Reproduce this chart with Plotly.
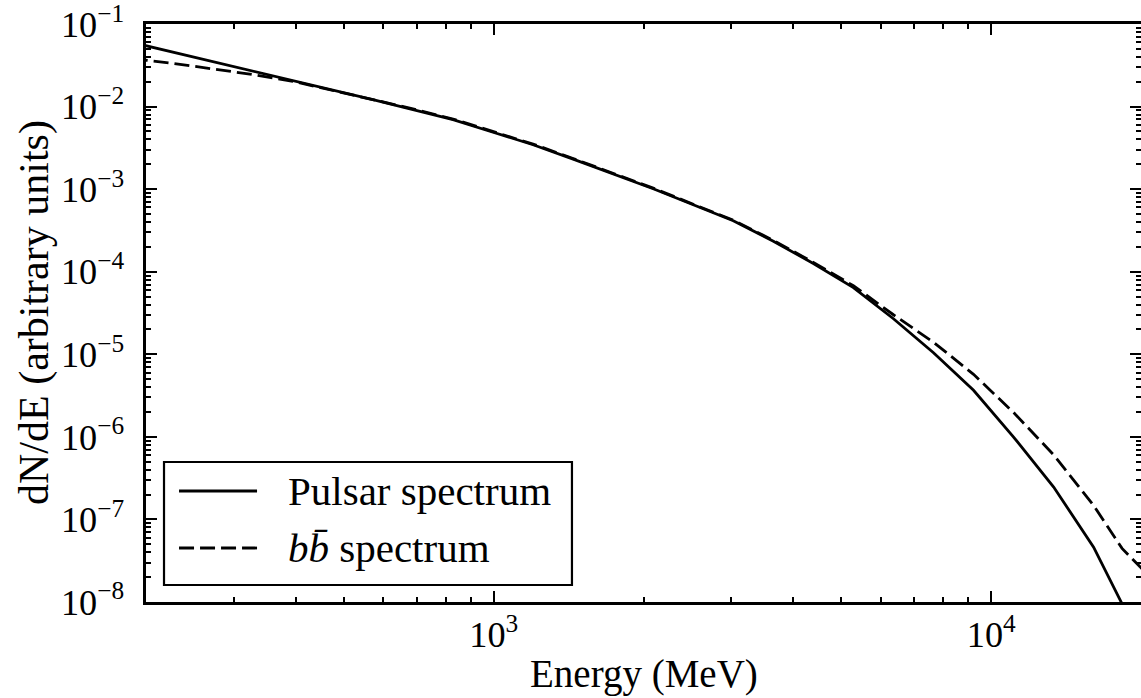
import plotly.graph_objects as go

# ---- data ----
energy_pulsar = [188.1, 226.3, 272.4, 327.9, 394.7, 475.0, 571.6, 688.0, 828.3, 996.8,
                 1199.8, 1444, 1738, 2092, 2518, 3030, 3648, 4390, 5284, 6360,
                 7655, 9213, 11090, 13350, 16060, 19340]
pulsar_dnde = [0.05967, 0.04590, 0.03530, 0.02716, 0.02089, 0.01594, 0.01213, 0.009222,
               0.006939, 0.004894, 0.003453, 0.002316, 0.001541, 0.001011, 6.47e-4,
               4.14e-4, 2.343e-4, 1.257e-4, 6.43e-5, 2.694e-5, 1.042e-5, 3.661e-6,
               9.94e-7, 2.463e-7, 4.616e-8, 4.95e-9]

energy_bb = [188.1, 226.3, 272.4, 327.9, 394.7, 475.0, 571.6, 688.0, 828.3, 996.8,
             1199.8, 1444, 1738, 2092, 2518, 3030, 3648, 4390, 5284, 6360,
             7655, 9213, 11090, 13350, 16060, 18320, 22050]
bb_dnde = [0.03806, 0.03340, 0.02864, 0.02443, 0.02026, 0.01572, 0.01233, 0.009404,
           0.007076, 0.004991, 0.003512, 0.002355, 0.001563, 0.001028, 6.58e-4,
           4.209e-4, 2.395e-4, 1.297e-4, 6.765e-5, 3.012e-5, 1.398e-5, 5.72e-6,
           1.970e-6, 6.05e-7, 1.478e-7, 4.452e-8, 1.417e-8]

series_names = ["Pulsar spectrum", "<i>b</i><i>b̄</i> spectrum"]
x_title = "Energy (MeV)"
y_title = "dN/dE (arbitrary units)"

FONT = "Liberation Serif"
LW = 2.8
DASH = "15px,6px"
XTITLE = 39
YTITLE = 42
LEG = 41
TICK = 29

fig = go.Figure()
fig.add_trace(go.Scatter(x=energy_pulsar, y=pulsar_dnde, mode="lines",
                         line=dict(color="black", width=LW), name=series_names[0],
                         showlegend=False))
fig.add_trace(go.Scatter(x=energy_bb, y=bb_dnde, mode="lines",
                         line=dict(color="black", width=LW, dash=DASH), name=series_names[1],
                         showlegend=False))
# invisible trace to carry the right-hand tick axis
fig.add_trace(go.Scatter(x=energy_pulsar, y=pulsar_dnde, mode="lines", yaxis="y2",
                         line=dict(color="rgba(0,0,0,0)", width=0), hoverinfo="skip",
                         showlegend=False))

common_minor = dict(ticks="inside", ticklen=5, tickwidth=1.5, tickcolor="black",
                    dtick="D1", showgrid=False)
YRANGE = [-8.0008, -0.9992]

fig.update_layout(
    template="none",
    width=1141, height=698,
    margin=dict(l=146, r=0, t=24, b=96),
    paper_bgcolor="white", plot_bgcolor="white",
    font=dict(family=FONT, size=XTITLE, color="black"),
    xaxis=dict(type="log", range=[2.30103, 4.30103], dtick=1, automargin=False,
               exponentformat="power", showgrid=False, zeroline=False,
               showline=True, linecolor="black", linewidth=3, mirror="ticks",
               ticks="inside", ticklen=11, tickwidth=1.5, tickcolor="black",
               minor=common_minor, ticklabelstandoff=0, ticklabeloverflow="allow",
               tickfont=dict(family=FONT, size=TICK)),
    yaxis=dict(type="log", range=YRANGE, dtick=1, automargin=False,
               exponentformat="power", showgrid=False, zeroline=False,
               showline=True, linecolor="black", linewidth=3, mirror=False,
               ticks="inside", ticklen=11, tickwidth=1.5, tickcolor="black",
               minor=common_minor, ticklabelstandoff=13, ticklabeloverflow="allow",
               tickfont=dict(family=FONT, size=TICK)),
    yaxis2=dict(type="log", range=YRANGE, dtick=1, overlaying="y", side="right",
                anchor="x", automargin=False, showgrid=False, zeroline=False,
                showline=False, showticklabels=False,
                ticks="inside", ticklen=11, tickwidth=1.5, tickcolor="black",
                minor=common_minor),
)

# axis titles
fig.add_annotation(text=x_title, xref="paper", yref="paper", x=0.5, y=0,
                   xanchor="center", yanchor="middle", yshift=-72, showarrow=False,
                   font=dict(family=FONT, size=XTITLE))
fig.add_annotation(text=y_title, xref="paper", yref="paper", x=0, y=0.5,
                   xanchor="center", yanchor="middle", xshift=-112, textangle=-90,
                   showarrow=False, font=dict(family=FONT, size=YTITLE))

# legend box (drawn manually to match the reference's long line samples)
fig.add_shape(type="rect", xref="paper", yref="paper", x0=0.0181, x1=0.4281,
              y0=0.0294, y1=0.2422, line=dict(color="black", width=2.2),
              fillcolor="white", layer="above")
fig.add_shape(type="line", xref="paper", yref="paper", x0=0.0332, x1=0.1116,
              y0=0.1920, y1=0.1920, line=dict(color="black", width=LW), layer="above")
fig.add_shape(type="line", xref="paper", yref="paper", x0=0.0332, x1=0.1116,
              y0=0.0934, y1=0.0934, line=dict(color="black", width=LW, dash=DASH),
              layer="above")
fig.add_annotation(text=series_names[0], xref="paper", yref="paper", x=0.1407, y=0.1920,
                   xanchor="left", yanchor="middle", showarrow=False,
                   font=dict(family=FONT, size=LEG))
fig.add_annotation(text=series_names[1], xref="paper", yref="paper", x=0.1407, y=0.0934,
                   xanchor="left", yanchor="middle", showarrow=False,
                   font=dict(family=FONT, size=LEG))

fig.write_html("out.html", config={"displayModeBar": False},
               post_script="document.body.style.margin='0';document.body.style.overflow='hidden';")
